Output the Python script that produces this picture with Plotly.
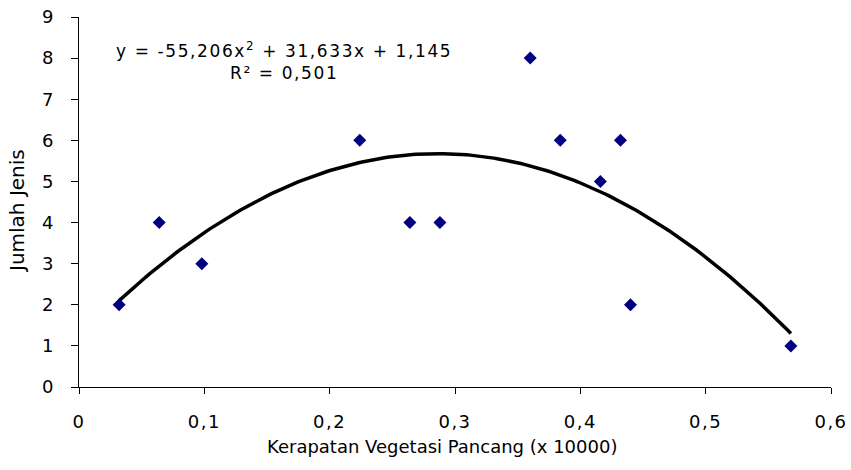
import numpy as np
import plotly.graph_objects as go

# Data
kerapatan = [0.032, 0.064, 0.098, 0.224, 0.264, 0.288, 0.360, 0.384, 0.416, 0.432, 0.440, 0.568]
jumlah_jenis = [2, 4, 3, 6, 4, 4, 8, 6, 5, 6, 2, 1]
# Polynomial trend coefficients as printed on the chart (x^2, x, const)
trend_coef = [-55.206, 31.633, 1.145]
r_squared = "0,501"
x_ticks = [0, 0.1, 0.2, 0.3, 0.4, 0.5, 0.6]
x_tick_labels = ["0", "0,1", "0,2", "0,3", "0,4", "0,5", "0,6"]
y_ticks = list(range(0, 10))

FONT = "DejaVu Sans"
W, H = 851, 470
L, R, T, B = 79, 20, 17, 83

xs = np.linspace(min(kerapatan), max(kerapatan), 200)
ys = np.polyval(trend_coef, xs)

fig = go.Figure()
fig.add_trace(go.Scatter(
    x=xs, y=ys, mode="lines",
    line=dict(color="black", width=3.5),
    hoverinfo="skip", showlegend=False,
))
fig.add_trace(go.Scatter(
    x=kerapatan, y=jumlah_jenis, mode="markers",
    marker=dict(symbol="diamond", size=10, color="#000080", line=dict(width=0)),
    showlegend=False,
))

pw = W - L - R
ph = H - T - B
spaced = lambda s: "<span style='letter-spacing:1.5px'>" + s + "</span>"

fig.update_layout(
    width=W, height=H,
    margin=dict(l=L, r=R, t=T, b=B, pad=0),
    paper_bgcolor="white", plot_bgcolor="white",
    font=dict(family=FONT, size=18, color="black"),
    separators=",.",
    xaxis=dict(
        range=[0, 0.6], tickvals=x_ticks, ticktext=[spaced(t) for t in x_tick_labels],
        showline=True, linecolor="black", linewidth=1,
        ticks="outside", ticklen=6, tickcolor="black", tickwidth=1,
        showgrid=False, zeroline=False, automargin=False,
        tickfont=dict(family=FONT, size=18),
        ticklabelstandoff=12, ticklabeloverflow="allow",
    ),
    yaxis=dict(
        range=[0, 9], tickvals=y_ticks,
        showline=True, linecolor="black", linewidth=1,
        ticks="outside", ticklen=7, tickcolor="black", tickwidth=1,
        showgrid=False, zeroline=False, automargin=False,
        tickfont=dict(family=FONT, size=18),
        ticklabelstandoff=14, ticklabeloverflow="allow",
    ),
    annotations=[
        dict(text="Kerapatan Vegetasi Pancang (x 10000)", xref="paper", yref="paper",
             x=(442 - L) / pw, y=0, yshift=-(446 - 387),
             xanchor="center", yanchor="middle", showarrow=False,
             font=dict(family=FONT, size=18)),
        dict(text="Jumlah Jenis", xref="paper", yref="paper",
             x=0, xshift=-(L - 17), y=(387 - 211) / ph,
             xanchor="center", yanchor="middle", textangle=-90, showarrow=False,
             font=dict(family=FONT, size=20)),
        dict(text="<span style='letter-spacing:1.6px'>y = -55,206x<sup>2</sup> + 31,633x + 1,145</span><br>"
                  "<span style='letter-spacing:1.6px'>R² = " + r_squared + "</span>",
             xref="paper", yref="paper",
             x=(284 - L) / pw, y=1, yshift=-(61 - 17),
             xanchor="center", yanchor="middle", align="center", showarrow=False,
             font=dict(family=FONT, size=17)),
    ],
)

fig.write_html("out.html", config={"displayModeBar": False},
               post_script="document.body.style.margin='0';")
